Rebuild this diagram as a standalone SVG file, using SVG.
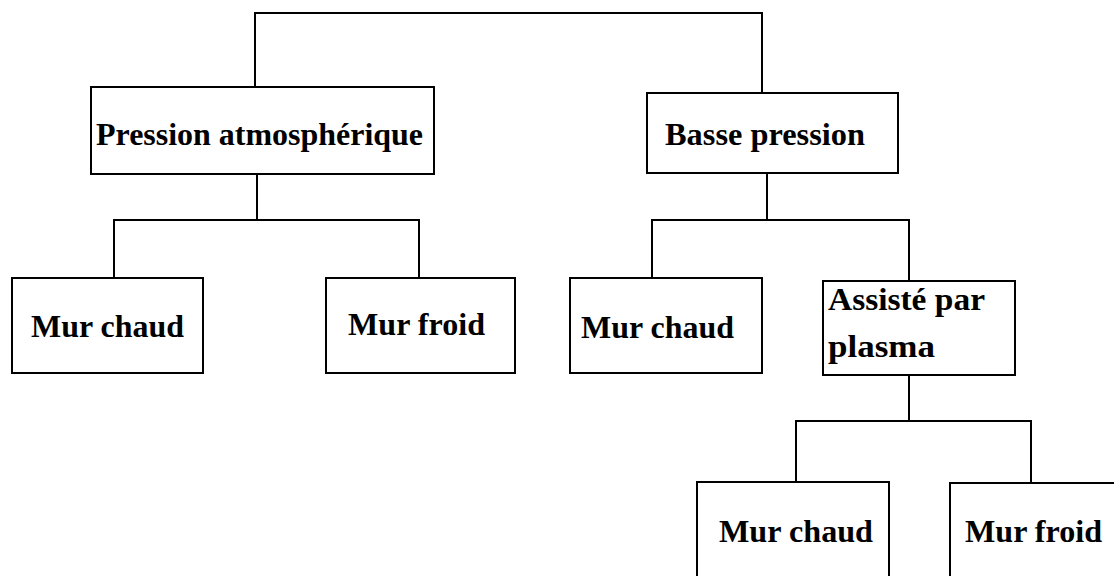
<svg xmlns="http://www.w3.org/2000/svg" width="1114" height="576" viewBox="0 0 1114 576">
<style>
.box{fill:#fff;stroke:#000;stroke-width:2}
.con{fill:none;stroke:#000;stroke-width:2}
text{font-family:"Liberation Serif","Times New Roman",serif;font-weight:bold;font-size:31px;fill:#000}
</style>
<rect width="1114" height="576" fill="#fff"/>
<g id="connectors">
<path class="con" d="M255 87 V13 H762 V95"/>
<path class="con" d="M257 174 V220"/>
<path class="con" d="M114 278 V220 H419 V278"/>
<path class="con" d="M767 173 V220"/>
<path class="con" d="M652 278 V220 H909 V281"/>
<path class="con" d="M909 375 V421"/>
<path class="con" d="M796 482 V421 H1031 V483"/>
</g>
<g id="n-pression-atm"><rect class="box" x="91" y="87" width="343" height="87"/><text x="96" y="145" textLength="327" lengthAdjust="spacingAndGlyphs">Pression atmosphérique</text></g>
<g id="n-basse-pression"><rect class="box" x="647" y="93" width="251" height="80"/><text x="665" y="145" textLength="200" lengthAdjust="spacingAndGlyphs">Basse pression</text></g>
<g id="n-mur-chaud-1"><rect class="box" x="12" y="278" width="191" height="95"/><text x="31" y="337" textLength="153" lengthAdjust="spacingAndGlyphs">Mur chaud</text></g>
<g id="n-mur-froid-1"><rect class="box" x="326" y="278" width="189" height="95"/><text x="348" y="335" textLength="137" lengthAdjust="spacingAndGlyphs">Mur froid</text></g>
<g id="n-mur-chaud-2"><rect class="box" x="570" y="278" width="192" height="95"/><text x="581" y="338" textLength="153" lengthAdjust="spacingAndGlyphs">Mur chaud</text></g>
<g id="n-plasma"><rect class="box" x="823" y="281" width="192" height="94"/><text x="828" y="310" textLength="157" lengthAdjust="spacingAndGlyphs">Assisté par</text><text x="828" y="357" textLength="107" lengthAdjust="spacingAndGlyphs">plasma</text></g>
<g id="n-mur-chaud-3"><rect class="box" x="697" y="482" width="192" height="120"/><text x="719" y="542" textLength="154" lengthAdjust="spacingAndGlyphs">Mur chaud</text></g>
<g id="n-mur-froid-3"><rect class="box" x="950" y="483" width="170" height="120"/><text x="965" y="542" textLength="137" lengthAdjust="spacingAndGlyphs">Mur froid</text></g>
</svg>
